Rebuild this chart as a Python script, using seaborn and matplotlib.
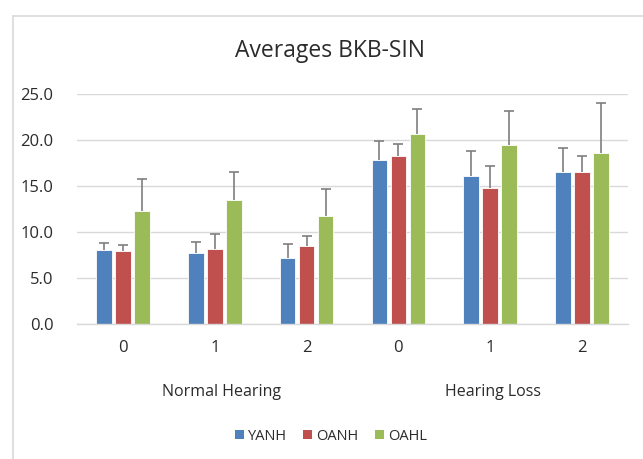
import numpy as np
import pandas as pd
import matplotlib
matplotlib.use("Agg")
import matplotlib.pyplot as plt
import seaborn as sns
from matplotlib.patches import Patch
from matplotlib.lines import Line2D
from matplotlib.transforms import blended_transform_factory

# ---- data ----
conditions = ["NH0", "NH1", "NH2", "HL0", "HL1", "HL2"]
tick_labels = ["0", "1", "2", "0", "1", "2"]
group_names = ["Normal Hearing", "Hearing Loss"]
series = ["YANH", "OANH", "OAHL"]
yanh = [8.0, 7.7, 7.1, 17.8, 16.1, 16.5]
oanh = [7.9, 8.1, 8.4, 18.2, 14.8, 16.5]
oahl = [12.3, 13.4, 11.7, 20.6, 19.4, 18.6]
yanh_err = [0.8, 1.2, 1.6, 2.1, 2.7, 2.6]
oanh_err = [0.6, 1.7, 1.1, 1.4, 2.4, 1.8]
oahl_err = [3.4, 3.1, 3.0, 2.8, 3.7, 5.4]

colors = ["#4F81BD", "#C0504D", "#9BBB59"]
text_col = "#2b2b2b"

sns.set_theme(style="white")
plt.rcParams["font.family"] = ["Open Sans", "DejaVu Sans"]

values = {"YANH": yanh, "OANH": oanh, "OAHL": oahl}
errs = {"YANH": yanh_err, "OANH": oanh_err, "OAHL": oahl_err}
rows = []
for s in series:
    for c, v, e in zip(conditions, values[s], errs[s]):
        rows.append({"cond": c, "series": s, "value": v, "err": e})
df = pd.DataFrame(rows)

fig = plt.figure(figsize=(6.43, 4.59), dpi=100)
ax = fig.add_axes([77/643, 1-323.5/459, (628-77)/643, (323.5-94)/459])

sns.barplot(data=df, x="cond", y="value", hue="series", order=conditions,
            hue_order=series, palette=colors, width=0.62, gap=0.18,
            errorbar=None, ax=ax, legend=False, edgecolor="white", linewidth=0.6,
            saturation=1)

# error bars (positive only) from bar positions
for s, cont in zip(series, ax.containers):
    xs = [p.get_x() + p.get_width()/2 for p in cont.patches]
    ys = [p.get_height() for p in cont.patches]
    eb = ax.errorbar(xs, ys, yerr=[np.zeros(len(ys)), errs[s]], fmt="none",
                     ecolor="#7F7F7F", elinewidth=1.2, capsize=3.5, capthick=1.2, zorder=3)
    caps = eb[1]
    if len(caps) >= 2:
        caps[0].set_visible(False)

ax.set_ylim(0, 25)
ax.set_xlim(-0.5, 5.5)
ax.set_yticks(np.arange(0, 25.1, 5))
ax.set_yticklabels([f"{v:.1f}" for v in np.arange(0, 25.1, 5)], fontsize=12, color=text_col)
ax.set_xticks(range(len(conditions)))
ax.set_xticklabels(tick_labels, fontsize=12, color=text_col)
ax.tick_params(axis="y", length=0, pad=17)
ax.tick_params(axis="x", length=0, pad=12)
ax.set_xlabel("")
ax.set_ylabel("")
ax.yaxis.grid(True, color="#D9D9D9", linewidth=1.0)
ax.set_axisbelow(True)
for sp in ["top", "right", "left"]:
    ax.spines[sp].set_visible(False)
ax.spines["bottom"].set_color("#D9D9D9")
ax.spines["bottom"].set_linewidth(1.0)

# group labels
tr = blended_transform_factory(ax.transData, fig.transFigure)
ax.text(1.07, 1-392/459, group_names[0], transform=tr, ha="center", va="center",
        fontsize=11.5, color=text_col)
ax.text(4.03, 1-392/459, group_names[1], transform=tr, ha="center", va="center",
        fontsize=11.5, color=text_col)

fig.text(330/643, 1-51/459, "Averages BKB-SIN", ha="center", va="center",
         fontsize=16.5, color=text_col)

handles = [Patch(facecolor=c, edgecolor="none") for c in colors]
fig.legend(handles, series, loc="center", bbox_to_anchor=(331/643, 1-436/459), ncol=3,
           frameon=False, fontsize=10.5, handlelength=0.6, handleheight=0.6,
           handletextpad=0.3, columnspacing=1.1, labelcolor=text_col)

# chart border (left and top visible)
fig.add_artist(Line2D([13/643, 13/643], [0, 1-16/459], transform=fig.transFigure,
                      color="#D9D9D9", linewidth=1.2))
fig.add_artist(Line2D([13/643, 1], [1-16/459, 1-16/459], transform=fig.transFigure,
                      color="#D9D9D9", linewidth=1.2))

fig.savefig("out.png", dpi=100)
